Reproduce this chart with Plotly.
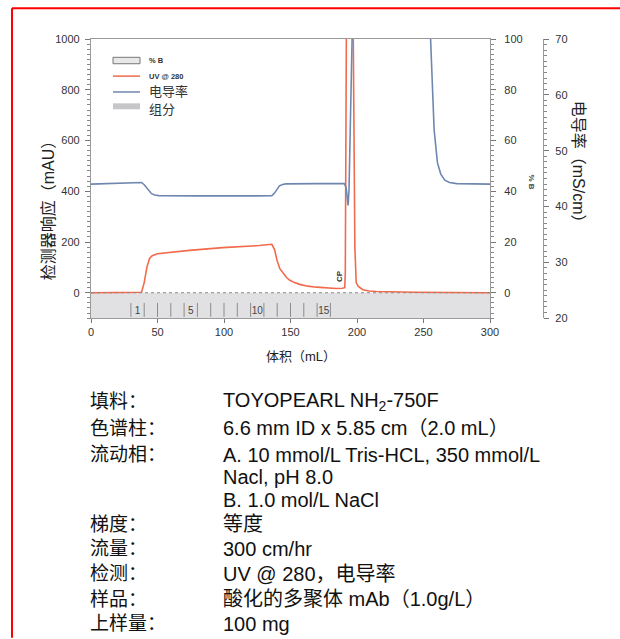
import plotly.graph_objects as go

# ---- chromatogram data -------------------------------------------------
volume_uv = [0, 37, 38, 40, 42, 44, 46, 50, 60, 74, 99, 119, 126.5, 134, 136,
             138, 140, 142, 144.5, 147, 149.5, 153, 157, 163, 169.5, 177, 184.5,
             189, 190.8, 191.2, 191.6, 192.0, 193.0, 194.5, 196.0, 196.8, 197.2,
             197.8, 198.4, 199.4, 201, 204.4, 209, 214.4, 230, 244, 270, 300]
uv_mau = [0, 0, 2, 40, 100, 135, 146, 154, 160, 167, 178, 183, 186, 190, 191,
          170, 125, 95, 75, 60, 49, 40, 33, 26, 22, 19, 17,
          18, 20, 80, 500, 1200, 2200, 2600, 2200, 1400, 1000,
          500, 180, 40, 25, 12, 7, 5, 3, 2, 1, 0]

volume_cond = [0, 10, 20, 30, 38, 40, 41.7, 43.5, 45.5, 48, 51, 80, 110, 125,
               136, 138, 140, 141.7, 144, 146.5, 170, 190.5, 191.8, 193.3, 194.0,
               194.8, 195.5, 196.3, 197, 199, 210, 250, 254, 255, 256.3, 258,
               260.5, 263, 266, 269.5, 275, 300]
conductivity = [44.0, 44.1, 44.2, 44.3, 44.3, 43.9, 43.4, 42.8, 42.3, 42.05,
                41.95, 41.9, 41.85, 41.9, 41.95, 42.4, 43.1, 43.7, 43.95, 44.05,
                44.1, 44.1, 43.4, 40.2, 43.0, 52, 61, 70, 78, 85, 88, 88, 80, 72,
                62.5, 53.7, 47.8, 45.8, 44.7, 44.3, 44.1, 44.0]

volume_b = [0, 300]
percent_b = [0, 0]

# fraction collection: boundaries (mL) of fractions 1..15
fraction_edges = [30, 40, 50, 60, 70, 80, 90, 100, 110, 120, 130, 140, 150,
                  160, 170, 180]
fraction_labels = ["1", "5", "10", "15"]
fraction_band = [-100, 0]
fraction_mark = [-40, -95]
fraction_label_level = -75

volume_range = [0, 300]
mau_ticks = [0, 200, 400, 600, 800, 1000]
volume_ticks = [0, 50, 100, 150, 200, 250, 300]
b_ticks = [0, 20, 40, 60, 80, 100]
cond_ticks = [20, 30, 40, 50, 60, 70]

cp_label = {"text": "CP", "volume": 187, "mau": 65}

method_rows = [
    ("填料：", "TOYOPEARL NH<sub>2</sub>-750F"),
    ("色谱柱：", "6.6 mm ID x 5.85 cm（2.0 mL）"),
    ("流动相：", "A. 10 mmol/L Tris-HCL, 350 mmol/L"),
    ("", "Nacl, pH 8.0"),
    ("", "B. 1.0 mol/L NaCl"),
    ("梯度：", "等度"),
    ("流量：", "300 cm/hr"),
    ("检测：", "UV @ 280，电导率"),
    ("样品：", "酸化的多聚体 mAb（1.0g/L）"),
    ("上样量：", "100 mg"),
]

# ---- styling -----------------------------------------------------------
W, H = 620, 639
ML, MR, MT, MB = 91, 40, 39, 10
PW, PH = W - ML - MR, H - MT - MB

UV_COLOR = "#f26a4b"
COND_COLOR = "#6f87b0"
AXIS_COLOR = "#9a9a9a"
TICK_FONT = dict(family="Liberation Sans Narrow, Arial Narrow, sans-serif",
                 size=11, color="#333333")
CJK = "Liberation Sans, Noto Sans CJK SC, sans-serif"


def px_x(px):
    return (px - ML) / PW


def px_y(py):
    return (H - MB - py) / PH


x_dom = [0, px_x(490)]
y_dom = [px_y(321), 1]

fig = go.Figure()

# fraction band and fraction boundaries
fig.add_trace(go.Scatter(
    x=[volume_range[0], volume_range[1], volume_range[1], volume_range[0], volume_range[0]],
    y=[fraction_band[0], fraction_band[0], fraction_band[1], fraction_band[1], fraction_band[0]],
    fill="toself", fillcolor="#e1e1e3", line=dict(width=0),
    mode="lines", hoverinfo="skip", showlegend=False))

edge_x, edge_y = [], []
for e in fraction_edges:
    edge_x += [e, e, None]
    edge_y += [fraction_mark[0], fraction_mark[1], None]
fig.add_trace(go.Scatter(x=edge_x, y=edge_y, mode="lines",
                         line=dict(color="#8c8c8c", width=1),
                         hoverinfo="skip", showlegend=False))

label_x = [(fraction_edges[int(t) - 1] + fraction_edges[int(t)]) / 2 for t in fraction_labels]
fig.add_trace(go.Scatter(x=label_x, y=[fraction_label_level] * len(fraction_labels),
                         mode="text", text=fraction_labels,
                         textfont=dict(family=TICK_FONT["family"], size=10, color="#444"),
                         hoverinfo="skip", showlegend=False))

# %B (isocratic, 0 %)
fig.add_trace(go.Scatter(x=volume_b, y=percent_b, yaxis="y2", mode="lines",
                         line=dict(color="#8a8a8a", width=1, dash="dot"),
                         showlegend=False))

# conductivity
fig.add_trace(go.Scatter(x=volume_cond, y=conductivity, yaxis="y3", mode="lines",
                         line=dict(color=COND_COLOR, width=1.6),
                         showlegend=False))

# UV 280 nm
fig.add_trace(go.Scatter(x=volume_uv, y=uv_mau, mode="lines",
                         line=dict(color=UV_COLOR, width=1.6),
                         showlegend=False))

axis_common = dict(showgrid=False, zeroline=False, showline=True,
                   linecolor=AXIS_COLOR, linewidth=1.2, ticks="outside",
                   tickcolor="#777", ticklen=5, tickfont=TICK_FONT)

fig.update_layout(
    width=W, height=H,
    margin=dict(l=ML, r=MR, t=MT, b=MB),
    paper_bgcolor="white", plot_bgcolor="white",
    xaxis=dict(domain=x_dom, range=volume_range, tickvals=volume_ticks,
               mirror=True, ticklen=4, **{k: v for k, v in axis_common.items() if k != "ticklen"}),
    yaxis=dict(domain=y_dom, range=[fraction_band[0], 1000], tickvals=mau_ticks,
               minor=dict(dtick=20, ticklen=3, tickcolor="#888", ticks="outside"),
               ticklabelstandoff=3, **axis_common),
    yaxis2=dict(overlaying="y", side="right", anchor="x",
                range=[-10, 100], tickvals=b_ticks,
                minor=dict(dtick=2, ticklen=3, tickcolor="#888", ticks="outside"),
                ticklabelstandoff=6, **axis_common),
    yaxis3=dict(overlaying="y", side="right", anchor="free", position=px_x(543),
                range=[20, 70], tickvals=cond_ticks,
                minor=dict(dtick=1, ticklen=3, tickcolor="#888", ticks="outside"),
                ticklabelstandoff=4, **axis_common),
    showlegend=False,
)

ann = []
shapes = []


def note(px, py, text, size, family=CJK, angle=0, xanchor="center", color="#222"):
    ann.append(dict(x=px_x(px), y=px_y(py), xref="paper", yref="paper",
                    xanchor=xanchor, yanchor="middle", text=text, textangle=angle,
                    showarrow=False, font=dict(family=family, size=size, color=color)))


# axis titles
note(48, 208, "检测器响应（mAU）", 16, angle=-90)
note(578, 167, "电导率（mS/cm）", 16, angle=90)
note(531, 183, "<b>% B</b>", 8, family=TICK_FONT["family"], angle=90, color="#444")
note(301, 360, "体积（mL）", 13)

# CP marker label
ann.append(dict(x=cp_label["volume"], y=cp_label["mau"], xref="x", yref="y",
                text="<b>" + cp_label["text"] + "</b>", textangle=-90, showarrow=False,
                font=dict(family=TICK_FONT["family"], size=8, color="#333")))

# legend block
leg_x0, leg_x1 = px_x(113), px_x(140)
shapes.append(dict(type="rect", xref="paper", yref="paper",
                   x0=leg_x0, x1=leg_x1, y0=px_y(64), y1=px_y(57.5),
                   fillcolor="#e8e8e8", line=dict(color="#777", width=1)))
shapes.append(dict(type="line", xref="paper", yref="paper",
                   x0=leg_x0, x1=leg_x1, y0=px_y(76.5), y1=px_y(76.5),
                   line=dict(color=UV_COLOR, width=1.5)))
shapes.append(dict(type="line", xref="paper", yref="paper",
                   x0=leg_x0, x1=leg_x1, y0=px_y(92.5), y1=px_y(92.5),
                   line=dict(color=COND_COLOR, width=1.5)))
shapes.append(dict(type="rect", xref="paper", yref="paper",
                   x0=leg_x0, x1=leg_x1, y0=px_y(110), y1=px_y(104),
                   fillcolor="#c6c6c8", line=dict(width=0)))
legend_items = [("<b>% B</b>", 60.5, 7.5, TICK_FONT["family"]),
                ("<b>UV @ 280</b>", 76.5, 7.5, TICK_FONT["family"]),
                ("电导率", 92.5, 13, CJK),
                ("组分", 110, 13, CJK)]
for txt, py, sz, fam in legend_items:
    note(147, py, txt, sz, family=fam, xanchor="left", color="#333")

# method details below the chart
row_y = [405, 432, 459, 482, 505, 529, 554, 579, 605, 630]
for (label, value), py in zip(method_rows, row_y):
    if label:
        note(88, py, label, 19, xanchor="left", color="#111")
    note(221, py, value, 20, xanchor="left", color="#111")

# red frame around the figure
shapes.append(dict(type="line", xref="paper", yref="paper",
                   x0=px_x(12), x1=px_x(W + 5), y0=px_y(8), y1=px_y(8),
                   line=dict(color="#ff0000", width=2)))
shapes.append(dict(type="line", xref="paper", yref="paper",
                   x0=px_x(12), x1=px_x(12), y0=px_y(8), y1=px_y(H + 5),
                   line=dict(color="#ff0000", width=2)))

fig.update_layout(annotations=ann, shapes=shapes)
fig.write_html("out.html")
